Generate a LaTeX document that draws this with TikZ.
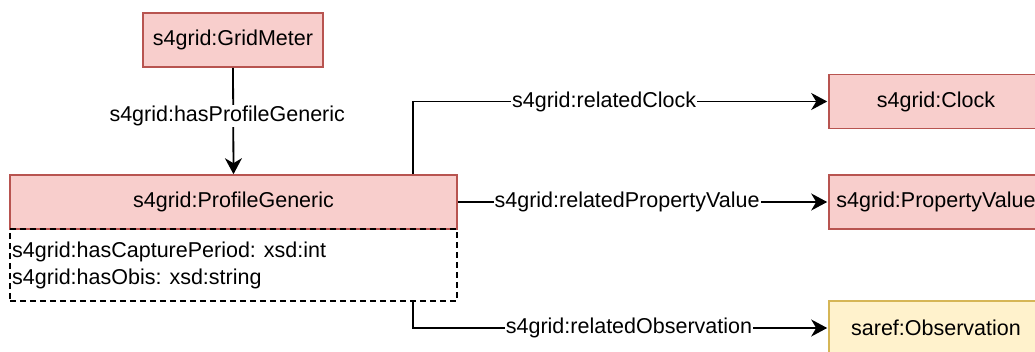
\documentclass[tikz,border=0pt]{standalone}
\usepackage{fontspec}
\setmainfont{Liberation Sans}
\usetikzlibrary{arrows.meta,calc}
\definecolor{redfill}{HTML}{F8CECC}
\definecolor{redline}{HTML}{B85450}
\definecolor{yelfill}{HTML}{FFF2CC}
\definecolor{yelline}{HTML}{D6B656}
\tikzset{
  txt/.style={font=\fontsize{21.5}{27}\selectfont},
  cls/.style={txt, draw=redline, fill=redfill, line width=1.6pt, minimum height=54pt, inner sep=0pt},
  ext/.style={txt, draw=yelline, fill=yelfill, line width=1.6pt, minimum height=54pt, inner sep=0pt},
  conn/.style={line width=1.8pt, -{Stealth[length=16pt,width=17pt,inset=5pt]}},
  lbl/.style={txt, fill=white, inner sep=1pt},
}
\begin{document}
\begin{tikzpicture}[x=1pt,y=-1pt]
\useasboundingbox (0,0) rectangle (1035,352);
\clip (0,0) rectangle (1035,352);
\node[cls, minimum width=180pt] (gm) at (233,40) {s4grid:GridMeter};
\node[cls, minimum width=447pt] (pg) at (233.5,202) {s4grid:ProfileGeneric};
\node[draw, dashed, line width=1.4pt, dash pattern=on 6pt off 4pt, minimum width=447pt, minimum height=72pt, inner sep=0pt] (attr) at (233.5,265) {};
\node[txt, anchor=west, align=left, inner sep=0pt] (attrtxt) at (12,265.5) {s4grid:hasCapturePeriod: xsd:int\\s4grid:hasObis: xsd:string};
\node[cls, minimum width=214pt] (clock) at (936,101.5) {s4grid:Clock};
\node[cls, minimum width=214pt] (pv) at (936,202) {s4grid:PropertyValue};
\node[ext, minimum width=214pt] (obs) at (936,328) {saref:Observation};

\draw[conn] (gm.south) -- node[lbl, pos=0.45, xshift=-6pt] {s4grid:hasProfileGeneric} (pg.north);
\draw[conn, shorten >=1pt] ([xshift=-44.5pt]pg.north east) |- node[lbl, pos=0.73] {s4grid:relatedClock} (clock.west);
\draw[conn, shorten >=1pt] (pg.east) -- node[lbl, pos=0.457] {s4grid:relatedPropertyValue} (pv.west);
\draw[conn, shorten >=1pt] ([xshift=-44.5pt]attr.south east) |- node[lbl, pos=0.76] {s4grid:relatedObservation} (obs.west);
\end{tikzpicture}
\end{document}
